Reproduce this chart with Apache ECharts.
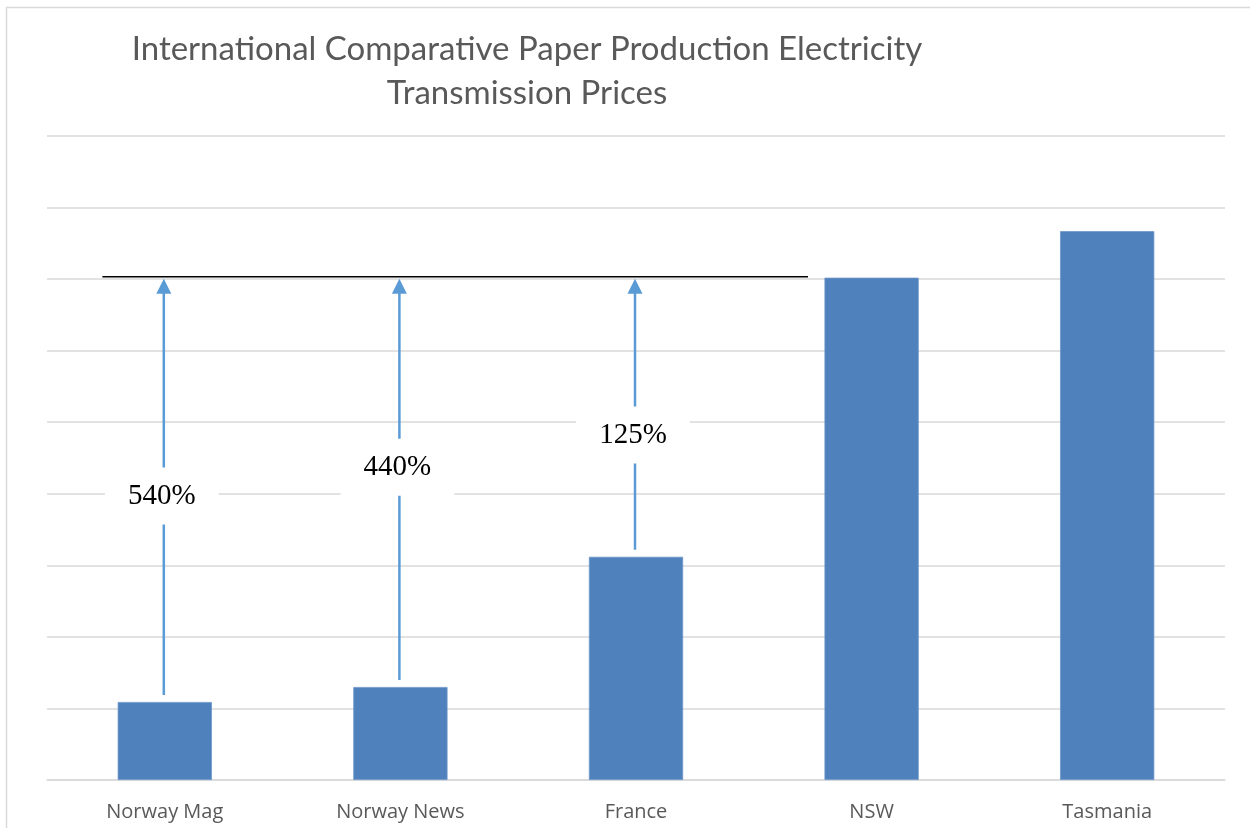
<!DOCTYPE html>
<html>
<head>
<meta charset="utf-8">
<script src="https://cdn.jsdelivr.net/npm/echarts@6/dist/echarts.min.js"></script>
<style>html,body{margin:0;padding:0;background:#fff}#chart{width:1250px;height:828px}</style>
</head>
<body>
<div id="chart"></div>
<script>
// ---- data ----
const categories = ['Norway Mag', 'Norway News', 'France', 'NSW', 'Tasmania'];
const prices = [1.09, 1.30, 3.12, 7.02, 7.67];
const gapLabels = ['540%', '440%', '125%'];
const gapLabelLevels = [3.97, 4.37, 4.82];
const referenceIndex = 3; // NSW
const titleLines = ['International Comparative Paper Production Electricity', 'Transmission Prices'];

const arrowData = gapLabels.map((lab, i) => [i, prices[i], prices[referenceIndex], gapLabelLevels[i], lab]);

const chart = echarts.init(document.getElementById('chart'), null, {renderer: 'canvas'});

const option = {
  backgroundColor: '#fff',
  animation: false,
  graphic: [
    {
      type: 'rect', silent: true, z: -10,
      shape: {x: 6.5, y: 7.5, width: 1400, height: 1000},
      style: {fill: 'none', stroke: '#D9D9D9', lineWidth: 1.5}
    },
    {
      type: 'text', silent: true,
      style: {
        x: 527, y: 27, text: titleLines.join('\n'),
        fontFamily: 'Lato', fontSize: 33, fill: '#595959',
        align: 'center', verticalAlign: 'top', lineHeight: 44
      }
    }
  ],
  grid: {left: 47, right: 25, top: 136, bottom: 48, containLabel: false},
  xAxis: {
    type: 'category', data: categories,
    axisLine: {show: true, lineStyle: {color: '#D9D9D9', width: 1.5}},
    axisTick: {show: false},
    axisLabel: {color: '#595959', fontFamily: 'Open Sans', fontSize: 20, margin: 22}
  },
  yAxis: {
    type: 'value', min: 0, max: 9, interval: 1,
    axisLabel: {show: false}, axisLine: {show: false}, axisTick: {show: false},
    splitLine: {show: true, lineStyle: {color: '#D9D9D9', width: 1.5}}
  },
  series: [
    {
      type: 'bar', data: prices, barWidth: '40%',
      itemStyle: {color: '#4F81BD', borderColor: '#6F97C8', borderWidth: 0.8},
      z: 2
    },
    {
      type: 'custom', z: 3, silent: true,
      data: [[0, prices[referenceIndex]]],
      renderItem: function (params, api) {
        const v = api.value(1);
        const bw = api.size([1, 0])[0];
        const p0 = api.coord([0, v]);
        const p3 = api.coord([referenceIndex, v]);
        return {
          type: 'line',
          shape: {x1: p0[0] - 0.265 * bw, y1: p0[1] - 1, x2: p3[0] - 0.27 * bw, y2: p3[1] - 1},
          style: {stroke: '#000', lineWidth: 1.5}
        };
      }
    },
    {
      type: 'custom', z: 4, silent: true,
      data: arrowData,
      renderItem: function (params, api) {
        const i = api.value(0);
        const from = api.coord([i, api.value(1)]);
        const to = api.coord([i, api.value(2)]);
        const lab = api.coord([i, api.value(3)]);
        const x = from[0] - 1;
        const tipY = to[1] + 1;
        const headH = 15, headW = 15;
        return {
          type: 'group',
          children: [
            {
              type: 'line',
              shape: {x1: x, y1: from[1] - 7, x2: x, y2: tipY + headH - 1},
              style: {stroke: '#5B9BD5', lineWidth: 2.5}
            },
            {
              type: 'polygon',
              shape: {points: [[x, tipY], [x - headW / 2, tipY + headH], [x + headW / 2, tipY + headH]]},
              style: {fill: '#5B9BD5'}
            },
            {
              type: 'text',
              style: {
                x: x - 2, y: lab[1], text: arrowData[params.dataIndex][4],
                fontFamily: 'Liberation Serif', fontSize: 29, fill: '#000',
                align: 'center', verticalAlign: 'middle',
                backgroundColor: '#fff', padding: [14, 23]
              }
            }
          ]
        };
      }
    }
  ]
};
chart.setOption(option);
</script>
</body>
</html>
